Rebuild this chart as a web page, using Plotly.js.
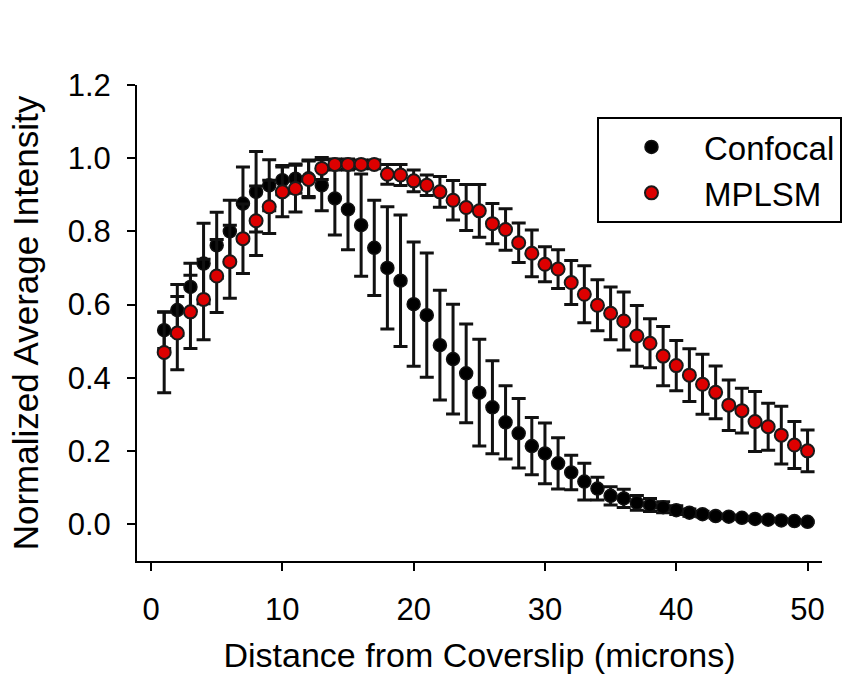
<!DOCTYPE html>
<html>
<head>
<meta charset="utf-8">
<script src="https://cdn.plot.ly/plotly-3.0.1.min.js"></script>
<style>html,body{margin:0;padding:0;background:#fff;}#chart{width:846px;height:678px;}</style>
</head>
<body>
<div id="chart"></div>
<script>
const distance = [1,2,3,4,5,6,7,8,9,10,11,12,13,14,15,16,17,18,19,20,21,22,23,24,25,26,27,28,29,30,31,32,33,34,35,36,37,38,39,40,41,42,43,44,45,46,47,48,49,50];

const confocal = [0.53,0.585,0.648,0.712,0.762,0.80,0.876,0.908,0.926,0.94,0.944,0.945,0.926,0.89,0.86,0.817,0.755,0.70,0.665,0.601,0.571,0.489,0.451,0.412,0.359,0.319,0.278,0.248,0.213,0.193,0.166,0.141,0.116,0.097,0.077,0.07,0.058,0.052,0.046,0.038,0.031,0.027,0.022,0.020,0.017,0.014,0.012,0.010,0.008,0.006];
const confocalErr = [0.05,0.07,0.065,0.11,0.09,0.085,0.10,0.11,0.07,0.04,0.04,0.05,0.07,0.10,0.11,0.14,0.13,0.167,0.18,0.17,0.17,0.15,0.15,0.135,0.146,0.127,0.10,0.095,0.078,0.083,0.07,0.047,0.05,0.031,0.025,0.025,0.02,0.018,0.015,0.012,0.01,0.008,0.006,0.005,0.004,0.004,0.003,0.003,0.002,0.002];

const mplsm = [0.469,0.522,0.58,0.614,0.678,0.717,0.78,0.829,0.867,0.908,0.917,0.942,0.972,0.983,0.983,0.983,0.983,0.956,0.954,0.938,0.926,0.908,0.885,0.865,0.856,0.821,0.805,0.769,0.74,0.71,0.697,0.66,0.628,0.598,0.576,0.555,0.514,0.494,0.459,0.433,0.407,0.382,0.36,0.325,0.31,0.28,0.266,0.243,0.216,0.20];
const mplsmErr = [0.11,0.10,0.10,0.11,0.10,0.10,0.095,0.095,0.073,0.068,0.064,0.05,0.03,0.015,0.015,0.012,0.012,0.027,0.029,0.03,0.028,0.042,0.054,0.063,0.072,0.055,0.057,0.054,0.064,0.048,0.053,0.06,0.078,0.07,0.072,0.079,0.083,0.067,0.081,0.069,0.072,0.082,0.072,0.069,0.061,0.082,0.064,0.079,0.064,0.057];

const seriesNames = ["Confocal", "MPLSM"];
const xTicks = [0,10,20,30,40,50];
const yTicks = [0,0.2,0.4,0.6,0.8,1.0,1.2];

const FONT = "Liberation Sans, Arial, Helvetica, sans-serif";

const traces = [
  {
    x: distance, y: confocal, name: seriesNames[0], type: "scatter", mode: "markers",
    marker: {color: "#000000", size: 13, line: {color: "#111111", width: 1.5}},
    error_y: {type: "data", array: confocalErr, visible: true, color: "#111111", thickness: 3, width: 7}
  },
  {
    x: distance, y: mplsm, name: seriesNames[1], type: "scatter", mode: "markers",
    marker: {color: "#dd0000", size: 13, line: {color: "#1a1a1a", width: 2}},
    error_y: {type: "data", array: mplsmErr, visible: true, color: "#111111", thickness: 3, width: 7}
  }
];

const layout = {
  width: 846, height: 678,
  paper_bgcolor: "#ffffff", plot_bgcolor: "#ffffff",
  margin: {l: 137, r: 24, t: 85, b: 117, autoexpand: false},
  font: {family: FONT, color: "#000000"},
  showlegend: true,
  legend: {
    x: 0.6715, y: 0.9328, xanchor: "left", yanchor: "top",
    bordercolor: "#000000", borderwidth: 2, bgcolor: "#ffffff",
    font: {size: 33, family: FONT, color: "#000"},
    itemwidth: 95,
    tracegroupgap: 0
  },
  xaxis: {
    range: [-1.07, 51.1], tickvals: xTicks, ticktext: xTicks.map(String),
    showgrid: false, zeroline: false, showline: true, linecolor: "#000", linewidth: 2,
    ticks: "outside", ticklen: 8, tickwidth: 2, tickcolor: "#000",
    tickfont: {size: 31, family: FONT}, ticklabelstandoff: 12,
    title: {text: "Distance from Coverslip (microns)", font: {size: 34, family: FONT}, standoff: 17},
    automargin: false
  },
  yaxis: {
    range: [-0.101, 1.2], tickvals: yTicks, ticktext: yTicks.map(v => v.toFixed(1)),
    showgrid: false, zeroline: false, showline: true, linecolor: "#000", linewidth: 2,
    ticks: "outside", ticklen: 8, tickwidth: 2, tickcolor: "#000",
    tickfont: {size: 31, family: FONT}, ticklabelstandoff: 10,
    title: {text: "Normalized Average Intensity", font: {size: 35, family: FONT}, standoff: 18},
    automargin: false
  }
};

Plotly.newPlot("chart", traces, layout, {displayModeBar: false, staticPlot: true});
</script>
</body>
</html>
